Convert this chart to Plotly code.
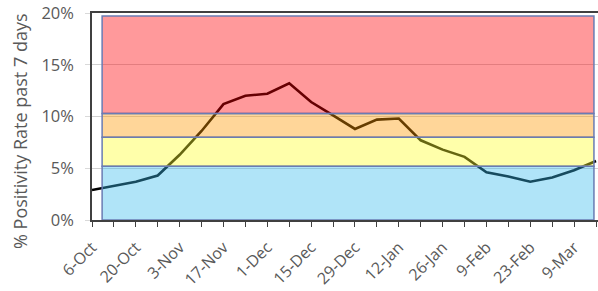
import plotly.graph_objects as go

# ---- data ----
weeks = ["6-Oct", "13-Oct", "20-Oct", "27-Oct", "3-Nov", "10-Nov", "17-Nov", "24-Nov",
         "1-Dec", "8-Dec", "15-Dec", "22-Dec", "29-Dec", "5-Jan", "12-Jan", "19-Jan",
         "26-Jan", "2-Feb", "9-Feb", "16-Feb", "23-Feb", "2-Mar", "9-Mar", "16-Mar"]
positivity = [2.9, 3.3, 3.7, 4.3, 6.3, 8.6, 11.2, 12.0, 12.2, 13.2, 11.4, 10.1,
              8.8, 9.7, 9.8, 7.7, 6.8, 6.1, 4.6, 4.2, 3.7, 4.1, 4.8, 5.7]
band_lower = [0, 5.2, 8.0, 10.3]
band_upper = [5.2, 8.0, 10.3, 19.7]
band_colors = ["rgba(57,187,237,0.4)", "rgba(255,255,43,0.4)",
               "rgba(255,152,0,0.4)", "rgba(255,0,5,0.4)"]
y_ticks = [0, 5, 10, 15, 20]
y_ticktext = ["0%", "5%", "10%", "15%", "20%"]

x_idx = list(range(len(weeks)))
tick_text = [w if i % 2 == 0 else "" for i, w in enumerate(weeks)]

fig = go.Figure()
fig.add_trace(go.Scatter(
    x=x_idx, y=positivity, mode="lines",
    line=dict(color="#000000", width=2.6),
    showlegend=False, hoverinfo="skip",
))

shapes = []
for lo, hi, col in zip(band_lower, band_upper, band_colors):
    shapes.append(dict(
        type="rect", layer="above",
        xref="x domain", yref="y",
        x0=0.02, x1=0.992, y0=lo, y1=hi,
        fillcolor=col,
        line=dict(color="#6a7cb4", width=1.5),
    ))

font_family = "Open Sans, Liberation Sans, sans-serif"
grey = "#595959"

fig.update_layout(
    width=598, height=291,
    margin=dict(l=92, r=0, t=13, b=71),
    paper_bgcolor="white", plot_bgcolor="white",
    shapes=shapes,
    font=dict(family=font_family, color=grey),
    xaxis=dict(
        range=[0, 23.09], automargin=False,
        tickmode="array", tickvals=x_idx, ticktext=tick_text,
        tickangle=-45, tickfont=dict(size=16, color=grey),
        ticklabelstandoff=5,
        ticks="outside", ticklen=5, tickcolor="#404040", tickwidth=1,
        showline=True, linecolor="#404040", linewidth=1.5, mirror=True,
        showgrid=False, zeroline=False,
    ),
    yaxis=dict(
        range=[0, 20], automargin=False,
        tickmode="array", tickvals=y_ticks, ticktext=y_ticktext,
        tickfont=dict(size=16.5, color=grey),
        ticklabelstandoff=8,
        ticks="outside", ticklen=5, tickcolor="#d9d9d9",
        showline=True, linecolor="#404040", linewidth=1.5,
        showgrid=True, gridcolor="#d0d0d0", gridwidth=1,
        zeroline=False,
    ),
    annotations=[dict(
        text="% Positivity Rate past 7 days",
        xref="paper", yref="paper", x=0, y=0.43,
        xshift=-72, xanchor="center", yanchor="middle",
        textangle=-90, showarrow=False,
        font=dict(size=18, color=grey, family=font_family),
    )],
)

fig.write_html(
    "out.html",
    config={"displayModeBar": False},
    post_script="document.body.style.margin='0';document.body.style.overflow='hidden';",
)
